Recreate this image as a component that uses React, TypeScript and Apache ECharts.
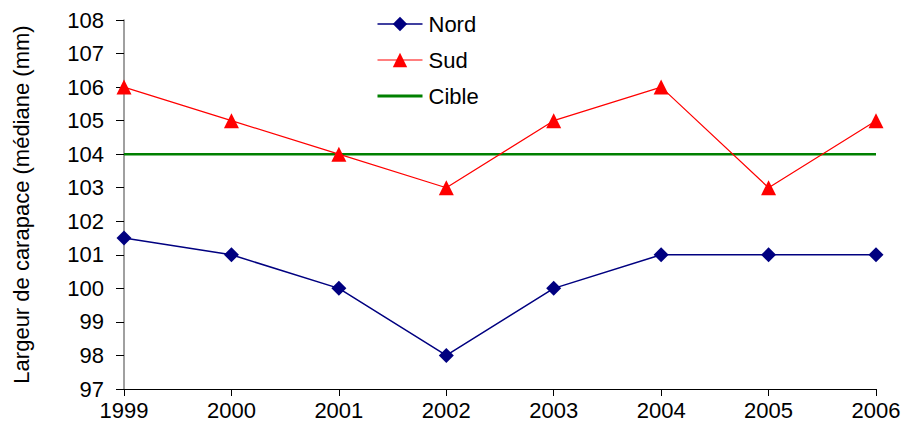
import React, { useEffect, useRef } from "react";
import * as echarts from "echarts";

const years = ["1999", "2000", "2001", "2002", "2003", "2004", "2005", "2006"];
const nord = [101.5, 101, 100, 98, 100, 101, 101, 101];
const sud = [106, 105, 104, 103, 105, 106, 103, 105];
const cible = [104, 104, 104, 104, 104, 104, 104, 104];
const yTitle = "Largeur de carapace (médiane (mm)";

export default function App() {
  const ref = useRef<HTMLDivElement>(null);
  useEffect(() => {
    const chart = echarts.init(ref.current!, null, { renderer: "svg" });
    const font = "'Liberation Sans', Arial, sans-serif";
    chart.setOption({
      animation: false,
      backgroundColor: "#ffffff",
      textStyle: { fontFamily: font },
      legend: {
        orient: "vertical",
        left: 371,
        top: 8,
        itemWidth: 45,
        itemHeight: 18,
        itemGap: 14,
        data: [
          { name: "Nord", lineStyle: { width: 1.5 } },
          { name: "Sud", lineStyle: { width: 1.2 } },
          { name: "Cible", itemStyle: { opacity: 0 }, lineStyle: { width: 3, color: "#008000" } },
        ],
        textStyle: { fontSize: 22, color: "#000", fontFamily: font, padding: [0, 0, 0, 1] },
      },
      grid: { left: 124, right: 28, top: 20, bottom: 44, containLabel: false },
      xAxis: {
        type: "category",
        data: years,
        boundaryGap: false,
        axisLine: { lineStyle: { color: "#000", width: 1 } },
        axisTick: { show: true, length: 7, lineStyle: { color: "#000" } },
        axisLabel: { fontSize: 22, color: "#000", margin: 10, fontFamily: font },
        splitLine: { show: false },
      },
      yAxis: {
        type: "value",
        min: 97,
        max: 108,
        interval: 1,
        name: yTitle,
        nameLocation: "middle",
        nameGap: 92,
        nameTextStyle: { fontSize: 22, color: "#000", fontFamily: font },
        axisLine: { show: true, lineStyle: { color: "#808080", width: 1.5 } },
        axisTick: { show: true, length: 8, lineStyle: { color: "#000" } },
        axisLabel: { fontSize: 22, color: "#000", margin: 20, fontFamily: font },
        splitLine: { show: false },
      },
      series: [
        {
          name: "Cible",
          type: "line",
          data: cible,
          symbol: "none",
          lineStyle: { color: "#008000", width: 2.5 },
          itemStyle: { color: "#008000" },
          z: 2,
        },
        {
          name: "Nord",
          type: "line",
          data: nord,
          symbol: "diamond",
          symbolSize: 15,
          lineStyle: { color: "#000080", width: 1.5 },
          itemStyle: { color: "#000080" },
          z: 3,
        },
        {
          name: "Sud",
          type: "line",
          data: sud,
          symbol: "triangle",
          symbolSize: 15,
          lineStyle: { color: "#ff0000", width: 1.2 },
          itemStyle: { color: "#ff0000" },
          z: 3,
        },
      ],
    });
    return () => chart.dispose();
  }, []);
  return (
    <div
      ref={ref}
      style={{ position: "fixed", left: 0, top: 0, width: 904, height: 433, background: "#fff" }}
    />
  );
}
